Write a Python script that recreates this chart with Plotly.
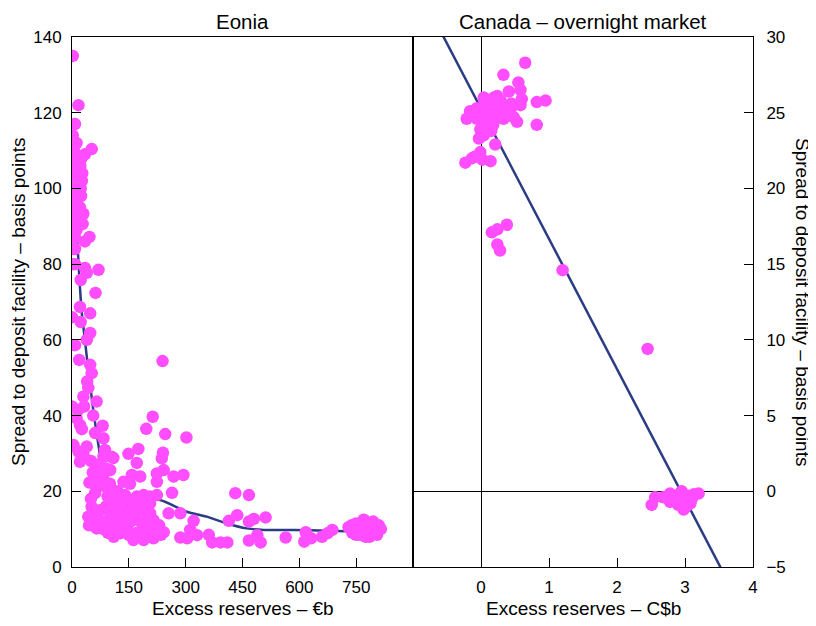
import plotly.graph_objects as go

# ---------------- Data ----------------
# Left panel: Eonia spread vs excess reserves (EUR bn)
eonia_x = [
    2, 17, 8, 2, 12, 52, 34, 25,
    0, 5, 10, 15, 3, 8, 13, 0, 6, 11, 18, 2, 7, 14, 0, 4, 10, 17, 2, 8, 13, 0, 5, 11, 20, 3, 9, 15, 0, 6, 12, 28, 30, 2, 8, 46, 34,
    22, 26, 24, 21, 27, 23,
    0, 8, 0, 8, 34, 39, 70, 23, 62, 21, 48, 0, 23, 48, 39, 8, 19, 48, 52, 40, 43, 30, 65, 0, 32, 16, 56, 12, 21, 26, 81, 61, 83,
    4, 39, 17, 30, 21, 87, 83, 109, 105,
    239, 213, 196, 246, 302, 149, 175, 171, 240, 237, 242, 224, 268, 294, 264, 224, 180, 158, 136, 153,
    65, 101, 83, 46, 61, 96, 79, 94, 171, 189, 206, 224, 206, 431, 467,
    52, 43, 74, 101, 118, 145, 175, 162, 206, 215, 255, 286,
    65, 83, 109, 127, 145, 162, 189, 215, 242, 189, 202,
    321, 312, 286, 304, 330, 361, 370, 392, 410, 414, 436, 467, 480, 511, 467, 489, 498, 564,
    617, 613, 631, 660, 674, 687,
    730, 738, 745, 750, 755, 760, 765, 770, 775, 780, 785, 790, 795, 800, 805, 810, 815, 760, 770, 785, 750, 775, 740, 795,
    50, 55, 60, 70, 75, 90, 100, 110, 115, 120, 90, 85, 100, 70, 60, 95, 110, 125, 135, 130, 140, 150, 155, 170, 180,
    195, 200, 210, 230, 235, 160, 185, 120, 140, 50, 45,
]
eonia_y = [
    135, 122, 117, 114, 112, 110.4, 109, 108,
    110, 110, 109, 108, 107, 106, 106, 105, 104, 104, 103, 102, 101, 101, 100, 99, 99, 99.6, 97, 96, 96, 95, 94, 93, 93, 92, 91, 91, 90, 89, 89, 90.6, 93.3, 88, 87, 87.2, 86,
    106, 102, 98, 95, 104, 100,
    84, 84, 80, 80, 79, 77.7, 78.5, 75.8, 72.4, 68.7, 67, 66, 64.7, 61.8, 60, 58.6, 54.7, 53.4, 51.2, 49, 47.3, 45, 43.7, 42.4, 42.4, 41.5, 40, 39.3, 37.5, 36.4, 37.3, 35.4, 34,
    32.2, 31.8, 30.5, 29.8, 27.8, 30.9, 29.1, 28.8, 29.1,
    54.4, 39.7, 36.5, 35.1, 34.2, 29.9, 31.2, 27.5, 30.2, 28.7, 25.6, 24.7, 23.9, 24.3, 19.6, 22.5, 23.9, 24.3, 22.5, 22,
    24.7, 25.6, 23.3, 22.3, 19.5, 20.4, 21.5, 18.7, 18.6, 19, 18.6, 19, 16.8, 19.5, 19,
    15.9, 13.3, 15, 14.2, 12.4, 14.6, 15, 13.3, 14.2, 12.4, 14.2, 14.2,
    10.2, 10, 10.2, 8.9, 10.6, 7.1, 7.1, 7.6, 9.2, 10, 11.3,
    12.2, 9.8, 7.8, 7.6, 8.4, 8.5, 6.5, 6.5, 6.5, 12.2, 13.7, 12, 12.7, 13.1, 7, 8.4, 6.5, 7.8,
    9.2, 6.7, 7.6, 8, 8.9, 9.8,
    10.5, 11, 9.5, 11.5, 10, 8.5, 11, 9, 12, 10, 8, 11, 9.5, 10.5, 8.5, 11, 10, 11.5, 12.5, 11.5, 8.5, 8, 9, 12,
    28, 25, 22, 27, 24, 26, 22, 20, 17, 15, 16, 12, 12, 12, 13, 9, 8, 11, 13, 17, 10, 8.5, 12, 9, 12,
    9, 14, 10.5, 11, 8.5, 17, 16, 20, 19, 18, 11,
]

# Fitted (smoothed) curve, left panel
eonia_fit_x = [5, 12, 25, 34, 42, 56, 65, 73, 82, 100, 126, 157, 184, 232, 303, 356, 409, 461, 505, 585, 673, 780]
eonia_fit_y = [98, 89, 68, 60, 53, 41.5, 35.4, 30.1, 24.8, 19.9, 17.7, 15.9, 17.2, 17.7, 14.6, 13.3, 11.5, 10.2, 9.8, 9.8, 9.6, 9.3]

# Right panel: Canada overnight market spread vs excess reserves (CAD bn)
canada_x = [
    0.65, 0.33, 0.55, 0.58, 0.41, 0.24, 0.04, 0.58, 0.45, 0.28, 0.13, -0.06, -0.16, -0.21, -0.06, 0.09, 0.33, 0.53, 0.82,
    0.82, 0.95, 0.14, -0.01, -0.03, 0.04, 0.21, -0.01, -0.09, -0.23, 0.14, 0.02, 0.19, 0.29, 0.44, 0.0, 0.05, 0.1, 0.2,
    0.3, 0.35, 0.15, 0.0, -0.1, 0.25, 0.38, 0.48, 0.07, 0.12, 0.6, -0.13, 0.18, 0.03, 0.15,
    0.16, 0.24, 0.38, 0.24, 0.28, 1.2, 2.45,
    2.51, 2.56, 2.78, 2.78, 2.93, 2.98, 3.08, 3.13, 3.2, 2.88, 2.68, 3.0, 2.95, 3.05, 2.9, 3.1, 2.85, 3.02,
]
canada_y = [
    28.3, 27.5, 27.0, 26.5, 26.4, 26.1, 26.0, 25.5, 25.6, 25.5, 25.1, 25.3, 25.1, 24.6, 24.6, 24.7, 24.6, 24.4, 24.2,
    25.7, 25.8, 24.3, 23.9, 23.3, 23.5, 22.9, 22.4, 22.1, 21.7, 21.8, 21.9, 26.0, 25.8, 25.3, 25.2, 25.6, 25.0, 24.9,
    24.8, 25.4, 24.5, 24.8, 24.9, 25.9, 25.0, 24.7, 24.4, 25.7, 25.9, 22.0, 24.2, 24.1, 23.8,
    17.1, 17.3, 17.6, 16.3, 15.9, 14.6, 9.4,
    -0.9, -0.4, -0.15, -0.7, -0.3, -1.2, -0.8, -0.2, -0.15, -0.6, -0.4, -0.5, 0.0, -0.3, -0.9, -0.5, -0.3, -1.0,
]

# Linear fit, right panel
canada_fit_intercept = 25.27
canada_fit_slope = -8.6
canada_fit_xrange = [-1, 4]

# Ticks
left_xticks = [0, 150, 300, 450, 600, 750]
left_yticks = [0, 20, 40, 60, 80, 100, 120, 140]
right_xticks = [0, 1, 2, 3, 4]
right_yticks = [-5, 0, 5, 10, 15, 20, 25, 30]

# ---------------- Figure ----------------
DOT = "#FF4DFF"
LINE = "#2B3C84"
FONT = "Arial, Liberation Sans, sans-serif"
TICK = 17
AXT = 19
TTL = 20.5

fig = go.Figure()

fig.add_trace(go.Scatter(x=eonia_fit_x, y=eonia_fit_y, mode="lines",
                         line=dict(color=LINE, width=2.5, shape="spline", smoothing=0.6),
                         xaxis="x", yaxis="y", showlegend=False, hoverinfo="skip"))
fig.add_trace(go.Scatter(x=eonia_x, y=eonia_y, mode="markers",
                         marker=dict(color=DOT, size=12.5, line=dict(width=0)),
                         xaxis="x", yaxis="y", showlegend=False))

fit_y = [canada_fit_intercept + canada_fit_slope * v for v in canada_fit_xrange]
fig.add_trace(go.Scatter(x=canada_fit_xrange, y=fit_y, mode="lines",
                         line=dict(color=LINE, width=2.5),
                         xaxis="x2", yaxis="y2", showlegend=False, hoverinfo="skip"))
fig.add_trace(go.Scatter(x=canada_x, y=canada_y, mode="markers",
                         marker=dict(color=DOT, size=12.5, line=dict(width=0)),
                         xaxis="x2", yaxis="y2", showlegend=False))

axis_common = dict(showline=True, linecolor="black", linewidth=1, mirror=True, automargin=False,
                   showgrid=False, ticks="inside", ticklen=9, tickcolor="black", tickwidth=1,
                   tickfont=dict(family=FONT, size=TICK, color="black"))

split = (413 - 72) / 681

# The page adds an 8px body margin, so the figure is 8px smaller than the window.
fig.update_layout(
    width=808, height=618,
    margin=dict(l=64, r=63, t=29, b=59, autoexpand=False),
    paper_bgcolor="white", plot_bgcolor="white",
    font=dict(family=FONT, size=16, color="black"),
    xaxis=dict(domain=[0, split], range=[0, 900], tickvals=left_xticks, zeroline=False,
               ticklabelstandoff=5, **axis_common),
    yaxis=dict(domain=[0, 1], range=[0, 140], tickvals=left_yticks, zeroline=False,
               anchor="x", ticklabelstandoff=6, **axis_common),
    xaxis2=dict(domain=[split, 1], range=[-1, 4], tickvals=right_xticks, anchor="y2",
                zeroline=True, zerolinecolor="black", zerolinewidth=1,
                ticklabelstandoff=5, **axis_common),
    yaxis2=dict(domain=[0, 1], range=[-5, 30], tickvals=right_yticks, anchor="x2", side="right",
                zeroline=True, zerolinecolor="black", zerolinewidth=1, ticklabelstandoff=9,
                **axis_common),
    annotations=[
        dict(text="Eonia", x=split / 2, y=1, xref="paper", yref="paper",
             xanchor="center", yanchor="middle", yshift=16, showarrow=False,
             font=dict(family=FONT, size=TTL)),
        dict(text="Canada – overnight market", x=(1 + split) / 2, y=1, xref="paper", yref="paper",
             xanchor="center", yanchor="middle", yshift=16, showarrow=False,
             font=dict(family=FONT, size=TTL)),
        dict(text="Excess reserves – €b", x=split / 2, y=0, xref="paper", yref="paper",
             xanchor="center", yanchor="middle", yshift=-41, showarrow=False,
             font=dict(family=FONT, size=AXT)),
        dict(text="Excess reserves – C$b", x=(1 + split) / 2, y=0, xref="paper", yref="paper",
             xanchor="center", yanchor="middle", yshift=-41, showarrow=False,
             font=dict(family=FONT, size=AXT)),
        dict(text="Spread to deposit facility – basis points", x=0, y=0.5, xref="paper", yref="paper",
             xanchor="center", yanchor="middle", xshift=-54, showarrow=False, textangle=-90,
             font=dict(family=FONT, size=AXT)),
        dict(text="Spread to deposit facility – basis points", x=1, y=0.5, xref="paper", yref="paper",
             xanchor="center", yanchor="middle", xshift=50, showarrow=False, textangle=90,
             font=dict(family=FONT, size=AXT)),
    ],
)

fig.write_html("out.html")
